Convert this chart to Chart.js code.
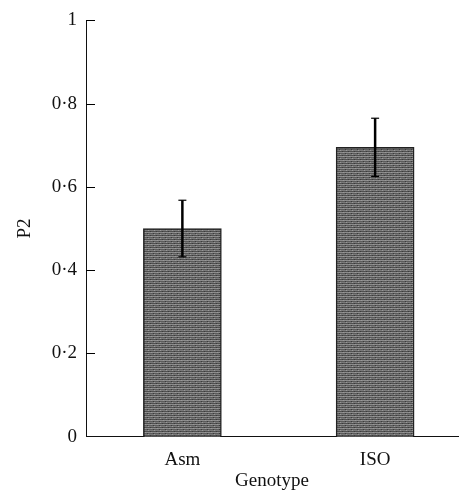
<!DOCTYPE html>
<html>
<head>
<meta charset="utf-8">
<script src="https://cdn.jsdelivr.net/npm/chart.js@4/dist/chart.umd.min.js"></script>
<style>
  html, body { margin: 0; padding: 0; background: #fff; overflow: hidden; }
  #wrap { width: 459px; height: 491px; position: relative; }
</style>
</head>
<body>
<div id="wrap"><canvas id="c"></canvas></div>
<script>
// ---- data ----
const categories = ['Asm', 'ISO'];
const means = [0.50, 0.695];
const errors = [0.068, 0.070];
const yTicks = [0, 0.2, 0.4, 0.6, 0.8, 1];
const xTitle = 'Genotype';
const yTitle = 'P2';

// striped grey fill resembling the scanned texture
function makePattern() {
  const p = document.createElement('canvas');
  p.width = 6; p.height = 4;
  const g = p.getContext('2d');
  const rows = ['#8c8c8c', '#5c5c5c', '#7a7a7a', '#505050'];
  rows.forEach((c, i) => { g.fillStyle = c; g.fillRect(0, i, 6, 1); });
  g.fillStyle = '#9a9a9a'; g.fillRect(1, 0, 1, 1); g.fillRect(4, 2, 1, 1);
  g.fillStyle = '#3a3a3a'; g.fillRect(3, 1, 1, 1); g.fillRect(0, 3, 1, 1);
  return g.createPattern(p, 'repeat');
}

const serif = "'Liberation Serif', 'Times New Roman', serif";

const errorBars = {
  id: 'errorBars',
  afterDatasetsDraw(chart) {
    const ctx = chart.ctx;
    const xs = chart.scales.x, ys = chart.scales.y;
    ctx.save();
    ctx.strokeStyle = '#000';
    means.forEach((m, i) => {
      const x = xs.getPixelForValue(i + 1);
      const yTop = ys.getPixelForValue(m + errors[i]);
      const yBot = ys.getPixelForValue(m - errors[i]);
      ctx.lineWidth = 2.5;
      ctx.beginPath(); ctx.moveTo(x, yBot); ctx.lineTo(x, yTop); ctx.stroke();
      ctx.lineWidth = 1.2;
      ctx.beginPath(); ctx.moveTo(x - 4, yTop); ctx.lineTo(x + 4, yTop); ctx.stroke();
      ctx.beginPath(); ctx.moveTo(x - 4, yBot); ctx.lineTo(x + 4, yBot); ctx.stroke();
    });
    ctx.restore();
  }
};

const inwardTicks = {
  id: 'inwardTicks',
  afterDraw(chart) {
    const ctx = chart.ctx;
    const ys = chart.scales.y;
    const left = chart.chartArea.left;
    ctx.save();
    ctx.strokeStyle = '#000';
    ctx.lineWidth = 1;
    yTicks.forEach(v => {
      if (v === 0) return;
      const y = Math.round(ys.getPixelForValue(v)) + 0.5;
      ctx.beginPath(); ctx.moveTo(left, y); ctx.lineTo(left + 9, y); ctx.stroke();
    });
    ctx.restore();
  }
};

new Chart(document.getElementById('c'), {
  type: 'bar',
  data: {
    datasets: [{
      data: means.map((m, i) => ({ x: i + 1, y: m })),
      backgroundColor: makePattern(),
      borderColor: '#222',
      borderWidth: 1.5,
      borderSkipped: 'bottom',
      barThickness: 78
    }]
  },
  options: {
    responsive: true,
    maintainAspectRatio: false,
    animation: false,
    layout: { padding: { top: 20, right: 1, left: 0, bottom: 0 } },
    plugins: { legend: { display: false }, tooltip: { enabled: false } },
    scales: {
      x: {
        type: 'linear',
        offset: false,
        min: 0.5,
        max: 2.43,
        afterBuildTicks(s) { s.ticks = categories.map((c, i) => ({ value: i + 1 })); },
        afterFit(s) { s.height = 54.3; },
        ticks: {
          callback: (v) => categories[v - 1] || '',
          font: { family: serif, size: 19 },
          color: '#111',
          padding: 12,
          maxRotation: 0
        },
        grid: { display: false, drawTicks: false },
        border: { display: true, color: '#111', width: 1 },
        title: {
          display: true, text: xTitle,
          font: { family: serif, size: 19, lineHeight: 1 },
          color: '#111',
          padding: { top: 0, bottom: 0 }
        }
      },
      y: {
        min: 0, max: 1,
        afterBuildTicks(s) { s.ticks = yTicks.map(v => ({ value: v })); },
        afterFit(s) { s.width = 86; },
        ticks: {
          callback: (v) => (v === 0 || v === 1) ? String(v) : v.toFixed(1).replace('.', '\u00B7'),
          font: { family: serif, size: 19 },
          color: '#111',
          padding: 9
        },
        grid: { display: false, drawTicks: false },
        border: { display: true, color: '#111', width: 1 },
        title: {
          display: true, text: yTitle,
          font: { family: serif, size: 19, lineHeight: 1 },
          color: '#111',
          padding: { top: 16, bottom: 0 }
        }
      }
    }
  },
  plugins: [errorBars, inwardTicks]
});
</script>
</body>
</html>
